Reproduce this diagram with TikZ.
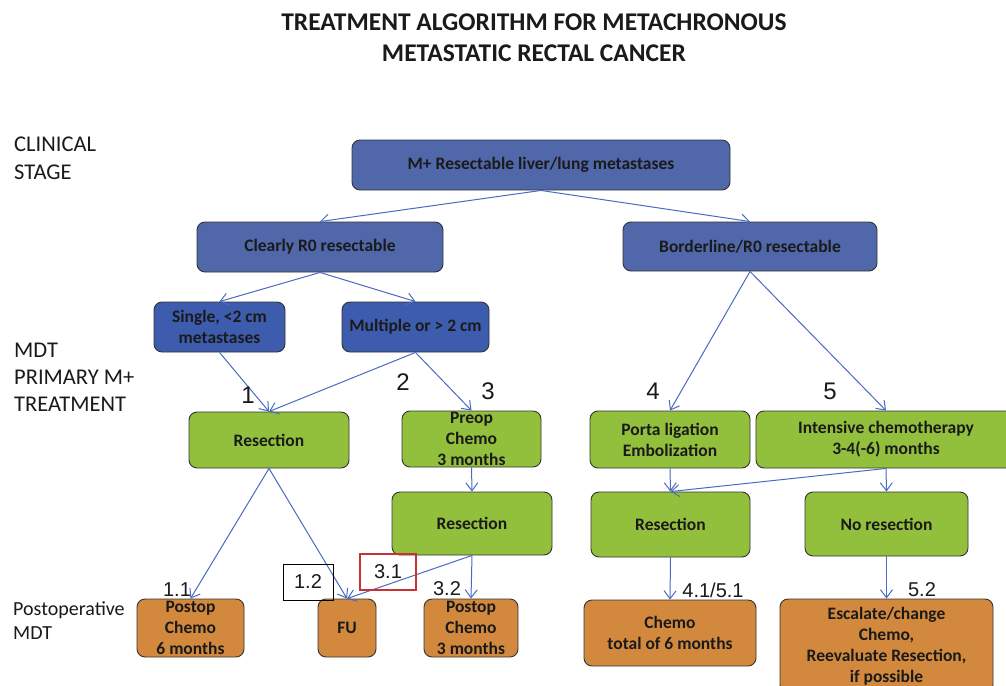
\documentclass[tikz,border=0pt]{standalone}
\usepackage{fontspec}
\setmainfont{Carlito}
\newfontfamily\numfont{Liberation Sans}
\usetikzlibrary{arrows.meta}

\definecolor{boxblue}{HTML}{5068A9}
\definecolor{boxblued}{HTML}{3D5CAE}
\definecolor{boxgreen}{HTML}{93C03C}
\definecolor{boxorange}{HTML}{D3893D}
\definecolor{linkblue}{HTML}{4A6BBF}
\definecolor{edgegray}{HTML}{333333}
\definecolor{txtdark}{HTML}{1A1A1A}
\definecolor{markred}{HTML}{C83232}

\tikzset{
  card/.style={draw=edgegray, line width=0.9pt, rounded corners=8pt, align=center,
    inner sep=0pt, text=txtdark,
    font=\fontsize{17.5}{21}\selectfont\bfseries},
  bluecard/.style={card, fill=boxblue},
  darkcard/.style={card, fill=boxblued},
  greencard/.style={card, fill=boxgreen},
  orangecard/.style={card, fill=boxorange},
  link/.style={draw=linkblue, line width=1pt,
    -{Straight Barb[length=8pt, width=12pt, line width=1pt]}},
  sidelabel/.style={anchor=west, align=left, inner sep=0pt, text=txtdark},
  pathnum/.style={inner sep=0pt, text=txtdark, font=\numfont\fontsize{24}{24}\selectfont},
  subnum/.style={inner sep=0pt, text=txtdark, font=\numfont\fontsize{20}{20}\selectfont},
}

\begin{document}
\begin{tikzpicture}[x=1pt, y=-1pt]
\clip (0,0) rectangle (1006,685);
\fill[white] (0,0) rectangle (1006,685);

% heading
\node[inner sep=0pt, align=center, text=txtdark,
  font=\fontsize{25.5}{31}\selectfont\bfseries] (head) at (534,38)
  {TREATMENT ALGORITHM FOR METACHRONOUS\\METASTATIC RECTAL CANCER};

% row labels
\node[sidelabel, font=\fontsize{22.5}{28}\selectfont] (lstage) at (14,158) {CLINICAL\\STAGE};
\node[sidelabel, font=\fontsize{22.5}{27}\selectfont] (lmdt) at (14,377) {MDT\\PRIMARY M+\\TREATMENT};
\node[sidelabel, font=\fontsize{20}{24}\selectfont] (lpost) at (13,621) {Postoperative\\MDT};

% clinical stage
\node[bluecard, minimum width=378pt, minimum height=50pt] (top) at (541,165) {M+ Resectable liver/lung metastases};
\node[bluecard, minimum width=246pt, minimum height=50pt] (clear) at (320,247) {Clearly R0 resectable};
\node[bluecard, minimum width=254pt, minimum height=49pt] (border) at (750,246.5) {Borderline/R0 resectable};
\node[darkcard, minimum width=131pt, minimum height=50pt] (single) at (219.5,327) {Single, <2 cm\\metastases};
\node[darkcard, minimum width=147pt, minimum height=50pt] (multi) at (415.5,327) {Multiple or > 2 cm};

% primary treatment
\node[greencard, minimum width=160pt, minimum height=56pt] (res1) at (269,440) {Resection};
\node[greencard, minimum width=139pt, minimum height=56pt] (preop) at (471.5,439) {Preop\\Chemo\\3 months};
\node[greencard, minimum width=160pt, minimum height=63pt] (res2) at (472,523.5) {Resection};
\node[greencard, minimum width=160pt, minimum height=57pt] (porta) at (670,439.5) {Porta ligation\\Embolization};
\node[greencard, minimum width=260pt, minimum height=57pt] (intens) at (886,439.5) {Intensive chemotherapy\\3-4(-6) months};
\node[greencard, minimum width=159pt, minimum height=65pt] (res3) at (670.5,524.5) {Resection};
\node[greencard, minimum width=163pt, minimum height=64pt] (nores) at (886.5,524) {No resection};

% postoperative
\node[orangecard, minimum width=107pt, minimum height=58pt] (post6) at (190.5,628) {Postop\\Chemo\\6 months};
\node[orangecard, minimum width=58pt, minimum height=58pt] (fu) at (347,628) {FU};
\node[orangecard, minimum width=94pt, minimum height=58pt] (post3) at (471,628) {Postop\\Chemo\\3 months};
\node[orangecard, minimum width=172pt, minimum height=66pt] (chemo6) at (670,633) {Chemo\\total of 6 months};
\node[orangecard, minimum width=213pt, minimum height=94pt] (escal) at (886.5,646) {Escalate/change\\Chemo,\\Reevaluate Resection,\\if possible};

% connectors
\draw[link] (top.south) -- (clear.north);
\draw[link] (top.south) -- (border.north);
\draw[link] (clear.south) -- (single.north);
\draw[link] (clear.south) -- (multi.north);
\draw[link] (single.south) -- (res1.north);
\draw[link] (multi.south) -- (res1.north);
\draw[link] (multi.south) -- (preop.north);
\draw[link] (preop.south) -- (res2.north);
\draw[link] (border.south) -- (porta.north);
\draw[link] (border.south) -- (intens.north);
\draw[link] (porta.south) -- (res3.north);
\draw[link] (intens.south) -- (res3.north);
\draw[link] (intens.south) -- (nores.north);
\draw[link] (res1.south) -- (post6.north);
\draw[link] (res1.south) -- (fu.north);
\draw[link] (res2.south) -- (fu.north);
\draw[link] (res2.south) -- (post3.north);
\draw[link] (res3.south) -- (chemo6.north);
\draw[link] (nores.south) -- (escal.north);

% path numbers
\node[pathnum] (n1) at (248,395) {1};
\node[pathnum] (n2) at (403,382) {2};
\node[pathnum] (n3) at (488,391) {3};
\node[pathnum] (n4) at (653,391) {4};
\node[pathnum] (n5) at (830,391) {5};

% outcome numbers
\node[subnum] (n11) at (177,590) {1.1};
\node[subnum, draw=black, line width=0.8pt, minimum width=50pt, minimum height=36pt] (n12) at (308,582) {1.2};
\node[subnum, draw=markred, line width=1.4pt, minimum width=56pt, minimum height=36pt] (n31) at (388,572) {3.1};
\node[subnum] (n32) at (447,589) {3.2};
\node[subnum] (n451) at (713,590) {4.1/5.1};
\node[subnum] (n52) at (922,590) {5.2};
\end{tikzpicture}
\end{document}
